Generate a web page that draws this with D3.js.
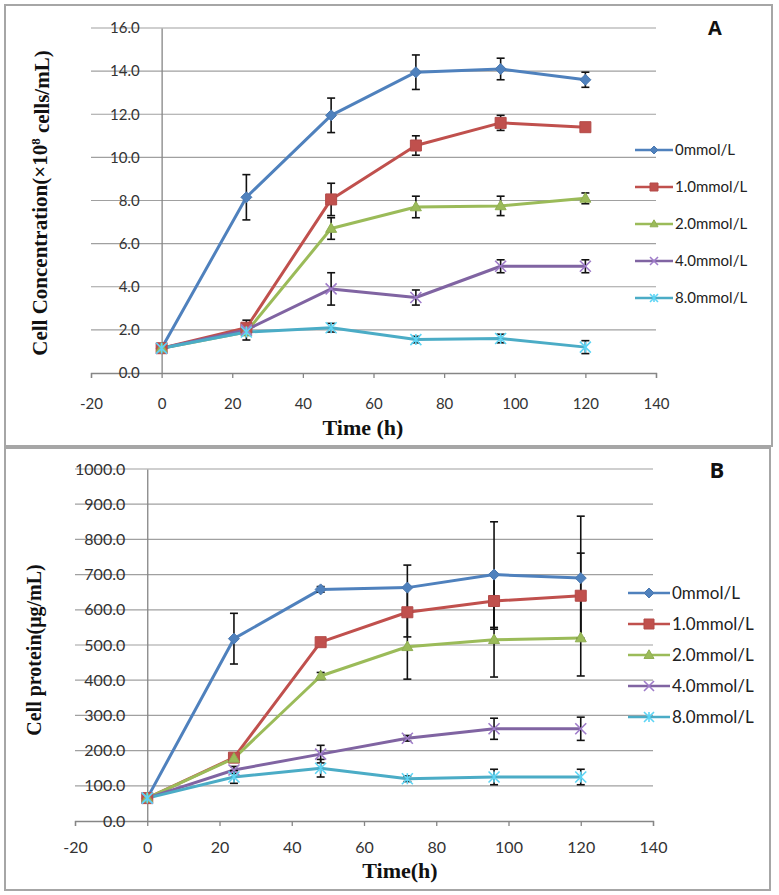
<!DOCTYPE html>
<html><head><meta charset="utf-8">
<script src="https://cdn.jsdelivr.net/npm/d3@7"></script>
<style>body{margin:0;background:#fff}svg{display:block}</style>
</head><body>
<script>
// ---------- DATA ----------
const times = [0, 24, 48, 72, 96, 120];
const seriesNames = ["0mmol/L", "1.0mmol/L", "2.0mmol/L", "4.0mmol/L", "8.0mmol/L"];
const seriesColors = ["#4F81BD", "#C0504D", "#9BBB59", "#8064A2", "#4BACC6"];
const markerKinds = ["diamond", "square", "triangle", "x", "star"];

// Panel A: cell concentration (x10^8 cells/mL)
const conc0 = [1.15, 8.15, 11.95, 13.95, 14.1, 13.6];
const conc1 = [1.15, 2.1, 8.05, 10.55, 11.6, 11.4];
const conc2 = [1.15, 1.9, 6.7, 7.7, 7.75, 8.1];
const conc4 = [1.15, 2.0, 3.9, 3.5, 4.95, 4.95];
const conc8 = [1.15, 1.9, 2.1, 1.55, 1.6, 1.2];
const concErr0 = [0, 1.05, 0.8, 0.8, 0.5, 0.35];
const concErr1 = [0, 0.35, 0.75, 0.45, 0.35, 0.1];
const concErr2 = [0, 0.37, 0.5, 0.5, 0.45, 0.25];
const concErr4 = [0, 0.1, 0.75, 0.35, 0.3, 0.3];
const concErr8 = [0, 0.1, 0.2, 0.15, 0.2, 0.3];

// Panel B: cell protein (ug/mL)
const prot0 = [65, 518, 658, 663, 700, 690];
const prot1 = [65, 180, 508, 593, 625, 640];
const prot2 = [65, 178, 412, 495, 515, 520];
const prot4 = [65, 145, 190, 235, 262, 262];
const prot8 = [65, 125, 150, 120, 125, 125];
const protErr0 = [0, 72, 8, 64, 150, 176];
const protErr1 = [0, 8, 8, 70, 80, 121];
const protErr2 = [0, 8, 10, 92, 106, 108];
const protErr4 = [0, 10, 25, 8, 30, 33];
const protErr8 = [0, 18, 25, 8, 22, 22];

const xTicks = [-20, 0, 20, 40, 60, 80, 100, 120, 140];
const yTicksA = [0, 2, 4, 6, 8, 10, 12, 14, 16];
const yTicksB = [0, 100, 200, 300, 400, 500, 600, 700, 800, 900, 1000];

// ---------- DRAW ----------
const W = 779, H = 895;
const svg = d3.select("body").append("svg").attr("width", W).attr("height", H);

function markerPath(kind, s) {
  const r = s / 2;
  if (kind === "diamond") return `M0,${-r}L${r},0L0,${r}L${-r},0Z`;
  if (kind === "square") return `M${-r},${-r}H${r}V${r}H${-r}Z`;
  if (kind === "triangle") { const h = s * 0.87; return `M0,${-h*0.6}L${r},${h*0.4}L${-r},${h*0.4}Z`; }
  if (kind === "x") return `M${-r},${-r}L${r},${r}M${r},${-r}L${-r},${r}`;
  if (kind === "star") return `M${-r},${-r}L${r},${r}M${r},${-r}L${-r},${r}M0,${-r}V${r}`;
}
function drawMarker(g, kind, color, x, y, s) {
  const p = g.append("path").attr("d", markerPath(kind, s)).attr("transform", `translate(${x},${y})`);
  if (kind === "x" || kind === "star") {
    p.attr("fill", "none").attr("stroke", d3.color(color).brighter(0.6)).attr("stroke-width", 1.6);
  } else {
    p.attr("fill", color).attr("stroke", d3.color(color).darker(0.2)).attr("stroke-width", 1);
  }
}

function panel(cfg) {
  const g = svg.append("g");
  g.append("rect").attr("x", cfg.frame[0]).attr("y", cfg.frame[1]).attr("width", cfg.frame[2]).attr("height", cfg.frame[3])
    .attr("fill", "#fff").attr("stroke", "#a6a6a6").attr("stroke-width", 2);
  const x = d3.scaleLinear().domain([-20, 140]).range(cfg.xr);
  const y = d3.scaleLinear().domain(cfg.yDomain).range(cfg.yr);

  // gridlines
  g.append("g").selectAll("line").data(cfg.yTicks.filter(d => d > 0)).join("line")
    .attr("x1", cfg.xr[0]).attr("x2", cfg.xr[1]).attr("y1", d => y(d)).attr("y2", d => y(d))
    .attr("stroke", "#a0a0a0").attr("stroke-width", 1.2);
  // x axis
  const xAxis = d3.axisBottom(x).tickValues(xTicks).tickSize(5).tickFormat(d => String(d));
  const xa = g.append("g").attr("transform", `translate(0,${y(0)})`).call(xAxis);
  xa.select(".domain").attr("stroke", "#868686").attr("stroke-width", 1.3);
  xa.selectAll(".tick line").attr("stroke", "#868686").attr("stroke-width", 1.3);
  xa.selectAll(".tick text").attr("font-family", "Lato, sans-serif").attr("font-size", cfg.tickFont)
    .attr("fill", "#333").attr("y", cfg.xLabelDy).attr("dy", 0);
  // y axis at x = 0
  const yAxis = d3.axisLeft(y).tickValues(cfg.yTicks).tickSize(0).tickPadding(22).tickFormat(d => d.toFixed(1));
  const ya = g.append("g").attr("transform", `translate(${x(0)},0)`).call(yAxis);
  ya.select(".domain").attr("stroke", "#868686").attr("stroke-width", 1.3);
  ya.selectAll(".tick text").attr("font-family", "Lato, sans-serif").attr("font-size", cfg.tickFont).attr("fill", "#333");

  // series
  const line = d3.line().x((d, i) => x(times[i])).y(d => y(d));
  cfg.values.forEach((vals, s) => {
    g.append("path").datum(vals).attr("d", line).attr("fill", "none")
      .attr("stroke", seriesColors[s]).attr("stroke-width", 3).attr("stroke-linejoin", "round");
  });
  cfg.values.forEach((vals, s) => {
    const eg = g.append("g").attr("stroke", "#111").attr("stroke-width", 1.6);
    vals.forEach((v, i) => {
      const e = cfg.errors[s][i];
      if (!e) return;
      const cx = x(times[i]), t = y(v + e), b = y(v - e);
      eg.append("line").attr("x1", cx).attr("x2", cx).attr("y1", t).attr("y2", b);
      eg.append("line").attr("x1", cx - 4).attr("x2", cx + 4).attr("y1", t).attr("y2", t);
      eg.append("line").attr("x1", cx - 4).attr("x2", cx + 4).attr("y1", b).attr("y2", b);
    });
  });
  cfg.values.forEach((vals, s) => {
    vals.forEach((v, i) => drawMarker(g, markerKinds[s], seriesColors[s], x(times[i]), y(v), cfg.markerSize));
  });

  // legend
  seriesNames.forEach((name, s) => {
    const ly = cfg.legY + s * cfg.legStep;
    g.append("line").attr("x1", cfg.legX).attr("x2", cfg.legX + cfg.legLen).attr("y1", ly).attr("y2", ly)
      .attr("stroke", seriesColors[s]).attr("stroke-width", 2.5);
    drawMarker(g, markerKinds[s], seriesColors[s], cfg.legX + cfg.legLen / 2, ly, cfg.legMarker);
    g.append("text").attr("x", cfg.legX + cfg.legLen + 2).attr("y", ly).attr("dy", "0.35em")
      .attr("font-family", "Lato, sans-serif").attr("font-size", cfg.legFont).attr("fill", "#222").text(name);
  });

  // titles
  g.append("text").attr("transform", `translate(${cfg.yTitle[0]},${cfg.yTitle[1]}) rotate(-90)`)
    .attr("text-anchor", "middle").attr("dy", "0.35em")
    .attr("font-family", "'Liberation Serif', 'Times New Roman', serif").attr("font-weight", "bold")
    .attr("font-size", cfg.yTitleFont).attr("fill", "#111").call(cfg.yTitleText);
  g.append("text").attr("x", cfg.xTitle[0]).attr("y", cfg.xTitle[1]).attr("text-anchor", "middle")
    .attr("font-family", "'Liberation Serif', 'Times New Roman', serif").attr("font-weight", "bold")
    .attr("font-size", 22).attr("fill", "#111").text(cfg.xTitleText);
  g.append("text").attr("x", cfg.letter[0]).attr("y", cfg.letter[1]).attr("text-anchor", "middle")
    .attr("font-family", "'Open Sans', sans-serif").attr("font-weight", "bold")
    .attr("font-size", cfg.letter[2]).attr("fill", "#111").text(cfg.letter[3]);
}

panel({
  frame: [5, 5, 767, 441], xr: [91, 656], yr: [373, 28], yDomain: [0, 16], yTicks: yTicksA,
  values: [conc0, conc1, conc2, conc4, conc8], errors: [concErr0, concErr1, concErr2, concErr4, concErr8],
  tickFont: 15, xLabelDy: 36, markerSize: 11,
  legX: 635, legY: 150, legStep: 37, legLen: 38, legMarker: 8, legFont: 15,
  yTitle: [40, 203], yTitleFont: 21,
  yTitleText: t => { t.append("tspan").text("Cell Concentration(×10");
    t.append("tspan").attr("font-size", 13).attr("dy", "-0.6em").text("8");
    t.append("tspan").attr("dy", "0.45em").text(" cells/mL)"); },
  xTitle: [363, 435], xTitleText: "Time (h)", letter: [715, 35, 20, "A"]
});
panel({
  frame: [5, 448, 765, 442], xr: [75, 653], yr: [821, 469], yDomain: [0, 1000], yTicks: yTicksB,
  values: [prot0, prot1, prot2, prot4, prot8], errors: [protErr0, protErr1, protErr2, protErr4, protErr8],
  tickFont: 16, xLabelDy: 32, markerSize: 11,
  legX: 628, legY: 593, legStep: 31, legLen: 42, legMarker: 10, legFont: 17,
  yTitle: [34, 650], yTitleFont: 20,
  yTitleText: t => t.text("Cell protein(μg/mL)"),
  xTitle: [400, 878], xTitleText: "Time(h)", letter: [717, 478, 22, "B"]
});
</script>
</body></html>
